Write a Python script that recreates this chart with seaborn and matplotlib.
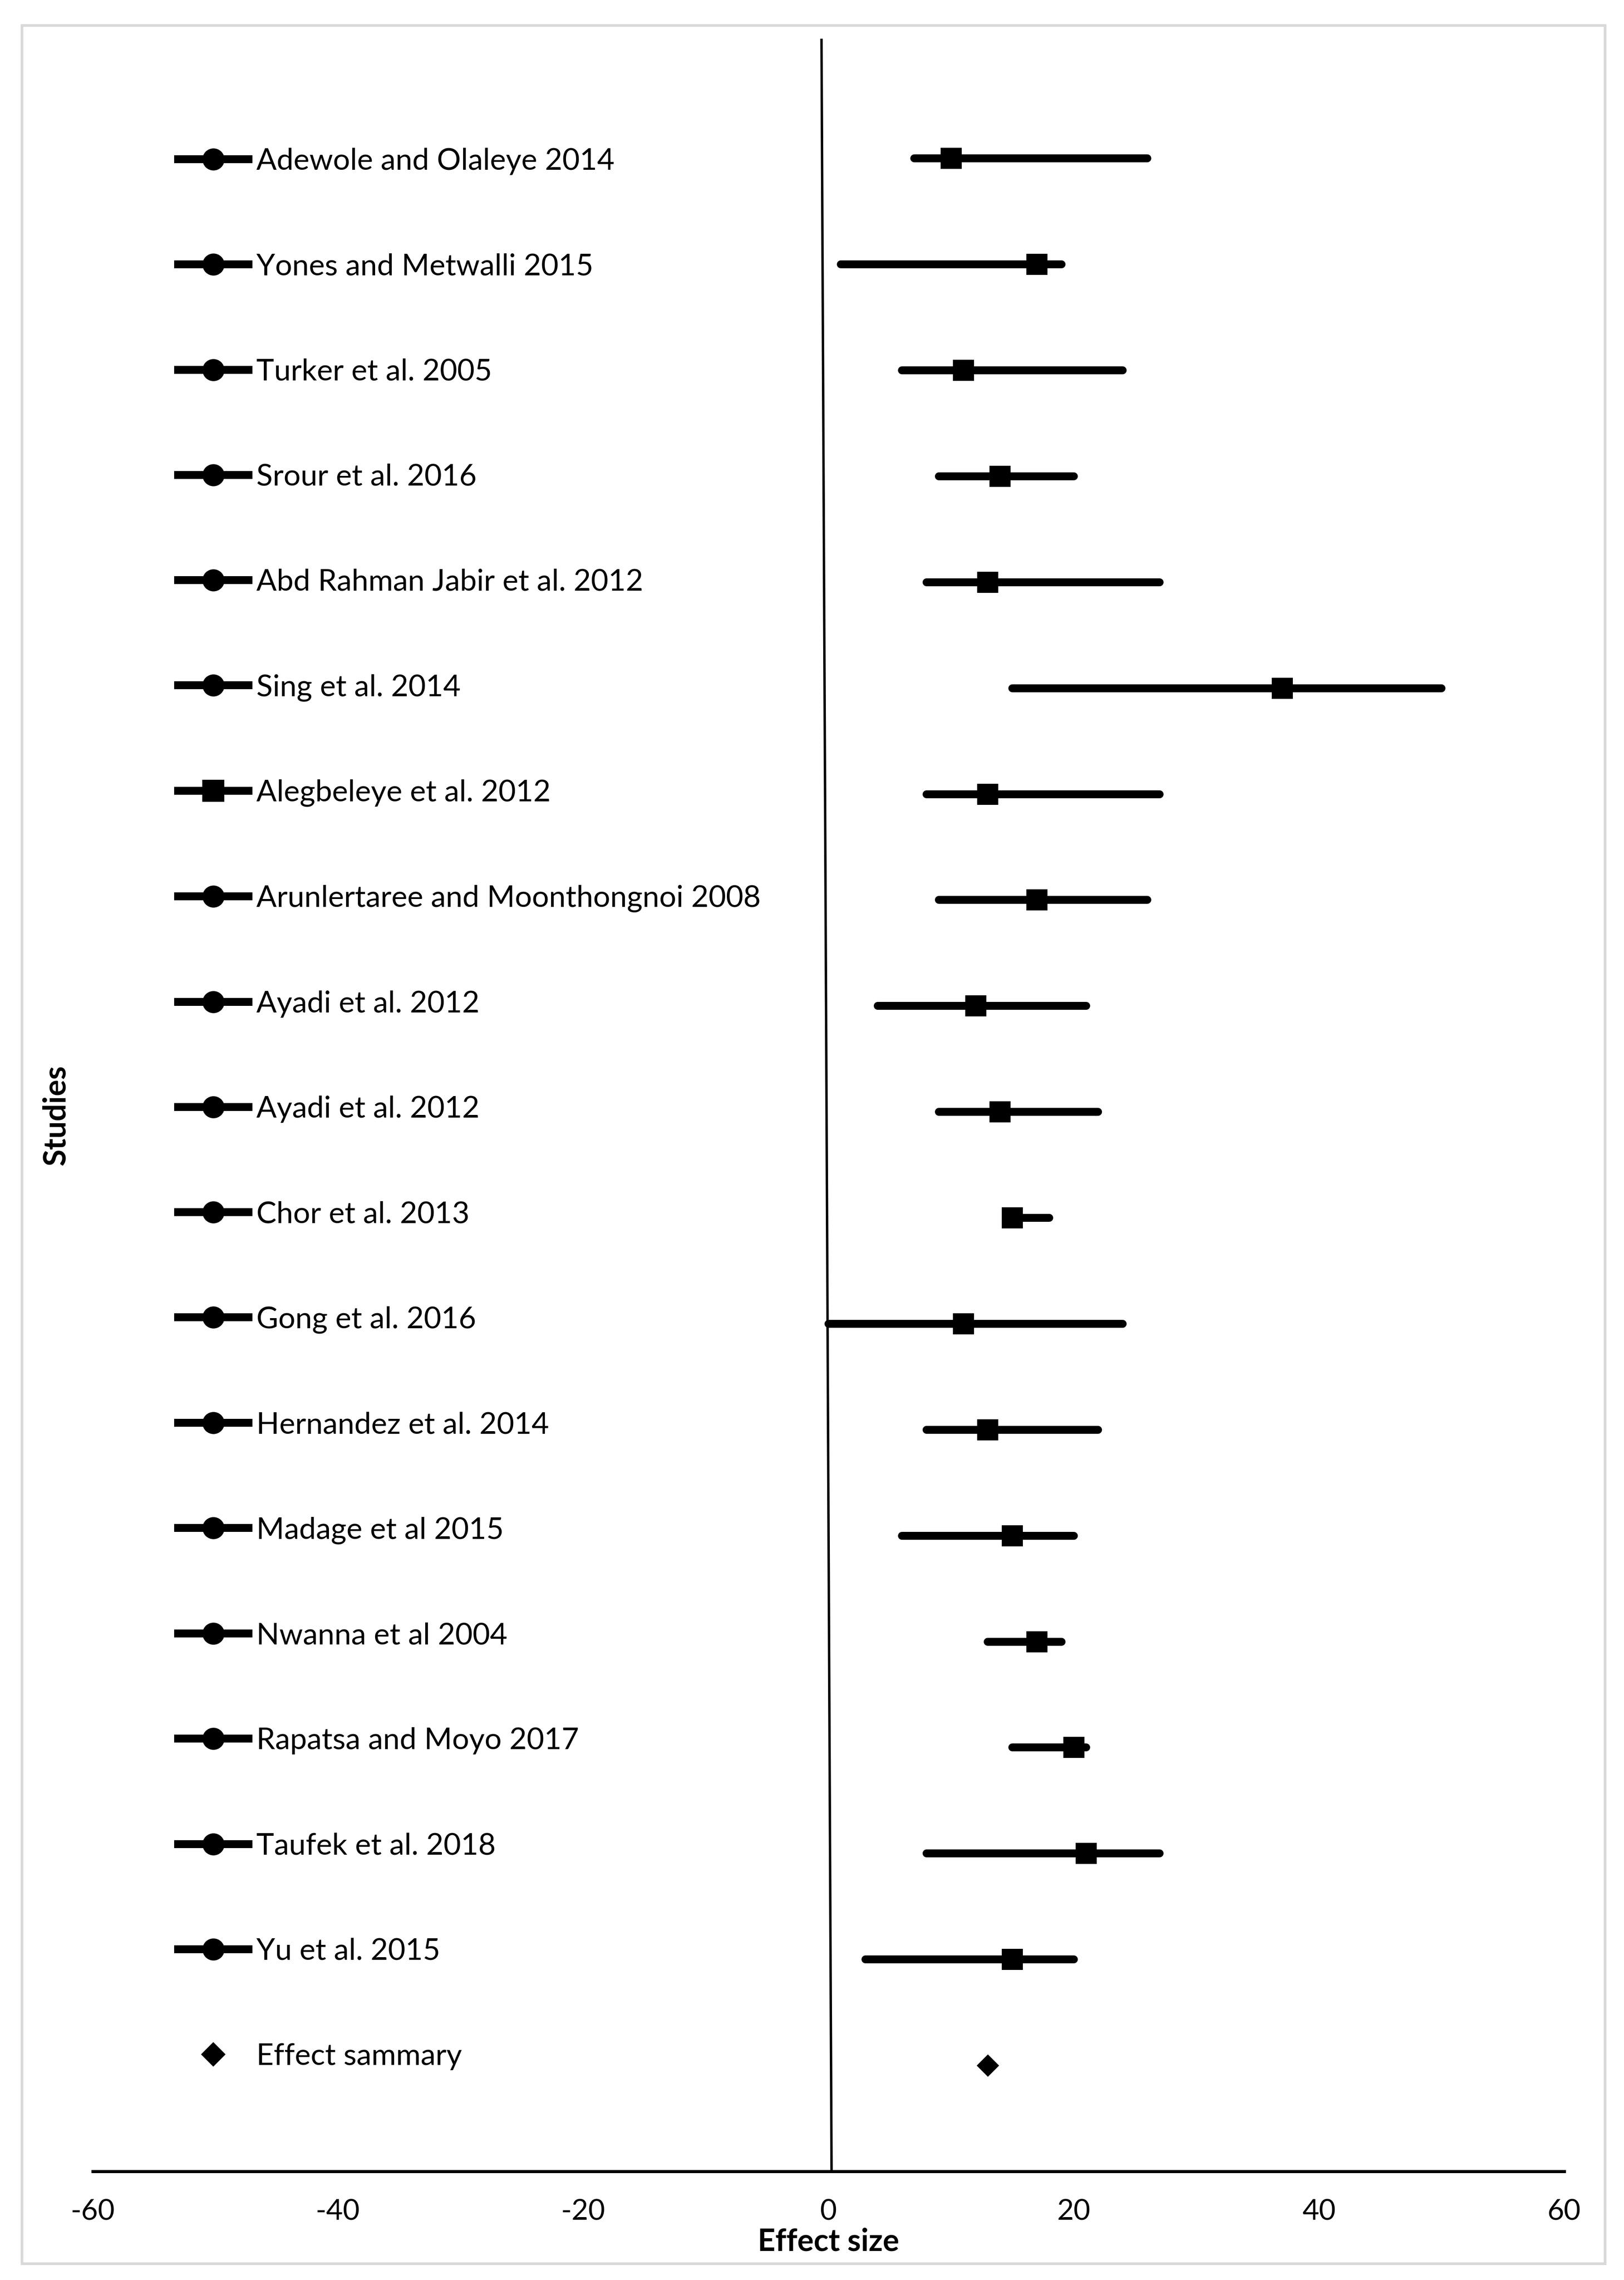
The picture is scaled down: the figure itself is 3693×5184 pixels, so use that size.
import matplotlib
matplotlib.use('Agg')
import matplotlib.pyplot as plt
from matplotlib.lines import Line2D
from matplotlib.patches import Rectangle
import pandas as pd
import seaborn as sns

studies = ['Adewole and Olaleye 2014', 'Yones and Metwalli 2015', 'Turker et al. 2005',
           'Srour et al. 2016', 'Abd Rahman Jabir et al. 2012', 'Sing et al. 2014',
           'Alegbeleye et al. 2012', 'Arunlertaree and Moonthongnoi 2008', 'Ayadi et al. 2012',
           'Ayadi et al. 2012', 'Chor et al. 2013', 'Gong et al. 2016', 'Hernandez et al. 2014',
           'Madage et al 2015', 'Nwanna et al 2004', 'Rapatsa and Moyo 2017',
           'Taufek et al. 2018', 'Yu et al. 2015']
effect = [10, 17, 11, 14, 13, 37, 13, 17, 12, 14, 15, 11, 13, 15, 17, 20, 21, 15]
lower = [7, 1, 6, 9, 8, 15, 8, 9, 4, 9, 15, 0, 8, 6, 13, 15, 8, 3]
upper = [26, 19, 24, 20, 27, 50, 27, 26, 21, 22, 18, 24, 22, 20, 19, 21, 27, 20]
legend_markers = ['o', 'o', 'o', 'o', 'o', 'o', 's', 'o', 'o',
                  'o', 'o', 'o', 'o', 'o', 'o', 'o', 'o', 'o']
summary_label = 'Effect sammary'
summary_effect = 13
xticks = [-60, -40, -20, 0, 20, 40, 60]

# rows from top (19) down to the summary row (1)
row = list(range(len(studies) + 1, 1, -1))
summary_row = 1

df = pd.DataFrame({'study': studies, 'effect': effect, 'lower': lower,
                   'upper': upper, 'row': row})
summ = pd.DataFrame({'effect': [summary_effect], 'row': [summary_row]})

sns.set_theme(style='white')
plt.rcParams['font.family'] = ['Lato', 'DejaVu Sans']
plt.rcParams['axes.unicode_minus'] = False

W, H, DPI = 3693, 5184, 300
fig = plt.figure(figsize=(W / DPI, H / DPI), dpi=DPI)
ax = fig.add_axes([211 / W, 247 / H, 3346 / W, 4849 / H])

px = 72 / DPI  # points per pixel

# reference line at zero
ax.plot([0.25, -0.57], [0, 20.13], color='black', lw=5.5 * px, zorder=1)

# confidence intervals
lc = ax.hlines(df['row'], df['lower'], df['upper'], colors='black', lw=18 * px, zorder=2)
lc.set_capstyle('round')

sns.scatterplot(data=df, x='effect', y='row', marker='s', s=(48 * px) ** 2,
                color='black', linewidth=0, ax=ax, zorder=3, legend=False)
sns.scatterplot(data=summ, x='effect', y='row', marker='D', s=(36 * px) ** 2,
                color='black', linewidth=0, ax=ax, zorder=3, legend=False)

ax.set_xlim(-60, 60)
ax.set_ylim(0, 20.13)
ax.set_xticks(xticks)
ax.set_xticklabels([str(t) for t in xticks])
ax.set_yticks([])
ax.tick_params(axis='x', length=0, pad=15, labelsize=15.75, colors='black')
for s in ['top', 'right', 'left']:
    ax.spines[s].set_visible(False)
ax.spines['bottom'].set_color('black')
ax.spines['bottom'].set_linewidth(7 * px)

ax.set_xlabel('Effect size', fontsize=16.75, fontweight='bold', color='black')
ax.xaxis.set_label_coords(0.5, -0.0262)
ax.set_ylabel('Studies', fontsize=16.75, fontweight='bold', color='black')
ax.yaxis.set_label_coords(-0.0153, 0.4952)

# legend on the left (series names)
handles = [Line2D([], [], color='black', lw=18 * px, marker=m, markersize=46 * px,
                  solid_capstyle='butt') for m in legend_markers]
handles.append(Line2D([], [], color='black', linestyle='none', marker='D', markersize=36 * px))
labels = studies + [summary_label]

fs = 16.4
fs_px = fs / px
target_x0, target_y0, target_gap = 396, 362, 239.4


def make_legend(spacing, anchor):
    return ax.legend(handles=handles, labels=labels, loc='upper left', bbox_to_anchor=anchor,
                     bbox_transform=fig.transFigure, frameon=False, fontsize=fs,
                     labelspacing=spacing, handlelength=178 / fs_px, handletextpad=9 / fs_px,
                     borderpad=0, borderaxespad=0, numpoints=1)


def handle_pos(leg):
    fig.canvas.draw()
    pts = []
    for h in leg.legend_handles:
        xy = h.get_transform().transform(h.get_xydata())
        pts.append((xy[:, 0].min(), xy[:, 1].mean()))
    return pts


spacing = 1.5
anchor = (target_x0 / W, 1 - (target_y0 - 30) / H)
leg = make_legend(spacing, anchor)
for _ in range(3):
    p = handle_pos(leg)
    gap = (p[0][1] - p[-1][1]) / (len(p) - 1)
    spacing += (target_gap - gap) / fs_px
    dx = (target_x0 - p[0][0]) / W
    dy = ((H - target_y0) - p[0][1]) / H
    anchor = (anchor[0] + dx, anchor[1] + dy)
    leg.remove()
    leg = make_legend(spacing, anchor)

for t in leg.get_texts():
    t.set_color('black')

# light grey frame around the chart
fig.patches.append(Rectangle((50 / W, 37 / H), 3600 / W, 5089 / H, transform=fig.transFigure,
                             fill=False, edgecolor='#d9d9d9', lw=6 * px, zorder=0))

fig.savefig('out.png', dpi=DPI)
